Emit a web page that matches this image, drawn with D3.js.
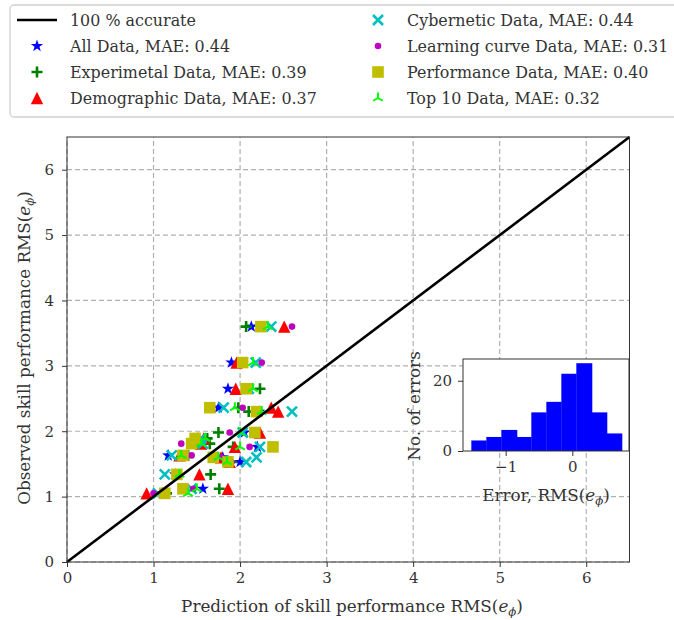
<!DOCTYPE html>
<html>
<head>
<meta charset="utf-8">
<script src="https://cdn.jsdelivr.net/npm/d3@7"></script>
<style>
body { margin: 0; background: white; }
text { font-family: "DejaVu Serif", serif; fill: #333; }
</style>
</head>
<body>
<div id="canvas"></div>
<script>
// observed skill performance, one value per case (shared by all predictors)
var observed = [3.60, 3.05, 2.65, 2.36, 2.30, 1.98, 1.89, 1.81, 1.76, 1.63, 1.60, 1.53, 1.34, 1.12, 1.05];

// predictions per data set
var allPred  = [2.13, 1.90, 1.86, 1.75, 2.22, 2.05, 1.52, 1.50, 2.20, 1.17, 1.80, 2.00, 1.25, 1.57, 1.10];
var expPred  = [2.07, 2.02, 2.23, 1.98, 2.10, 1.75, 1.62, 1.65, 1.92, 1.40, 1.72, 1.90, 1.66, 1.76, 1.15];
var demPred  = [2.51, 1.96, 1.95, 2.36, 2.44, 2.23, 1.58, 1.55, 1.94, 1.30, 1.78, 1.88, 1.53, 1.86, 0.92];
var cybPred  = [2.36, 2.18, 2.10, 1.81, 2.60, 2.03, 1.55, 1.57, 2.23, 1.21, 2.19, 2.07, 1.13, 1.44, 1.05];
var lcPred   = [2.60, 2.25, 2.05, 2.03, 2.20, 1.88, 1.50, 1.32, 2.11, 1.44, 1.78, 1.90, 1.28, 1.46, 1.00];
var perfPred = [2.24, 2.03, 2.07, 1.65, 2.19, 2.17, 1.48, 1.44, 2.38, 1.34, 1.69, 1.86, 1.27, 1.34, 1.13];
var topPred  = [2.32, 2.15, 2.15, 1.94, 2.25, 2.00, 1.60, 1.55, 2.00, 1.32, 1.75, 1.85, 1.30, 1.50, 1.40];

var seriesNames = ["All Data, MAE: 0.44", "Experimetal Data, MAE: 0.39", "Demographic Data, MAE: 0.37",
  "Cybernetic Data, MAE: 0.44", "Learning curve Data, MAE: 0.31", "Performance Data, MAE: 0.40", "Top 10 Data, MAE: 0.32"];
var seriesPred = [allPred, expPred, demPred, cybPred, lcPred, perfPred, topPred];
var seriesColors = ["#0000ff", "#008000", "#ff0000", "#00bfbf", "#bf00bf", "#bfbf00", "#00ff00"];
var seriesShapes = ["star", "plus", "triangle", "x", "circle", "square", "tri"];

// inset histogram of errors
var errorBins = [-1.515, -1.29, -1.065, -0.83, -0.615, -0.39, -0.165, 0.06, 0.295, 0.52, 0.745];
var errorCounts = [3, 4, 6, 4, 11, 14, 22, 25, 11, 5];

var mainTicks = [0, 1, 2, 3, 4, 5, 6];
var insetXTicks = [-1, 0];
var insetYTicks = [0, 20];

var labelSize = 16.8, legendSize = 15.9, tickSize = 15;

var svg = d3.select("#canvas").append("svg").attr("width", 674).attr("height", 620);

var x = d3.scaleLinear().domain([0, 6.5]).range([67, 629.5]);
var y = d3.scaleLinear().domain([0, 6.5]).range([562, 137]);

// marker path for a shape, h = half size
function markerPath(shape, h) {
  if (shape == "star") {
    var p = d3.path(), R = h * 1.15, r = R * 0.4;
    for (var i = 0; i < 10; i++) {
      var a = -Math.PI / 2 + i * Math.PI / 5, rr = i % 2 ? r : R;
      if (i == 0) p.moveTo(rr * Math.cos(a), rr * Math.sin(a)); else p.lineTo(rr * Math.cos(a), rr * Math.sin(a));
    }
    p.closePath();
    return p.toString();
  }
  if (shape == "plus") return "M" + (-h) + ",0H" + h + "M0," + (-h) + "V" + h;
  if (shape == "x") return "M" + (-h) + "," + (-h) + "L" + h + "," + h + "M" + (-h) + "," + h + "L" + h + "," + (-h);
  if (shape == "triangle") return "M0," + (-h * 1.1) + "L" + (h * 1.1) + "," + (h * 1.1) + "L" + (-h * 1.1) + "," + (h * 1.1) + "Z";
  if (shape == "square") return "M" + (-h) + "," + (-h) + "H" + h + "V" + h + "H" + (-h) + "Z";
  if (shape == "tri") return "M0,0V" + (-h) + "M0,0L" + (-0.87 * h) + "," + (0.5 * h) + "M0,0L" + (0.87 * h) + "," + (0.5 * h);
  return "";
}
function drawMarker(g, shape, color) {
  if (shape == "circle") {
    g.append("circle").attr("r", 3.3).attr("fill", color);
  } else if (shape == "plus" || shape == "x" || shape == "tri") {
    g.append("path").attr("d", markerPath(shape, shape == "x" ? 5 : 5.5)).attr("fill", "none")
      .attr("stroke", color).attr("stroke-width", shape == "tri" ? 2 : 2.6);
  } else {
    g.append("path").attr("d", markerPath(shape, shape == "square" ? 5.8 : 5.6)).attr("fill", color);
  }
}

// grid
svg.append("g").selectAll("line").data(mainTicks).join("line")
  .attr("x1", d => x(d)).attr("x2", d => x(d)).attr("y1", y(0)).attr("y2", y(6.5))
  .attr("stroke", "#b0b0b0").attr("stroke-width", 1.2).attr("stroke-dasharray", "5,3");
svg.append("g").selectAll("line").data(mainTicks).join("line")
  .attr("y1", d => y(d)).attr("y2", d => y(d)).attr("x1", x(0)).attr("x2", x(6.5))
  .attr("stroke", "#b0b0b0").attr("stroke-width", 1.2).attr("stroke-dasharray", "5,3");

// scatter
seriesPred.forEach(function(pred, s) {
  var g = svg.append("g");
  pred.forEach(function(p, i) {
    var m = g.append("g").attr("transform", "translate(" + x(p) + "," + y(observed[i]) + ")");
    drawMarker(m, seriesShapes[s], seriesColors[s]);
  });
});

// 100 % accurate line
svg.append("line").attr("x1", x(0)).attr("y1", y(0)).attr("x2", x(6.5)).attr("y2", y(6.5))
  .attr("stroke", "black").attr("stroke-width", 2.6);

// frame and axes
svg.append("rect").attr("x", x(0)).attr("y", y(6.5)).attr("width", x(6.5) - x(0)).attr("height", y(0) - y(6.5))
  .attr("fill", "none").attr("stroke", "#333").attr("stroke-width", 1);

var xAxis = svg.append("g").attr("transform", "translate(0," + y(0) + ")")
  .call(d3.axisBottom(x).tickValues(mainTicks).tickFormat(d3.format("d")).tickSize(5).tickPadding(5));
var yAxis = svg.append("g").attr("transform", "translate(" + x(0) + ",0)")
  .call(d3.axisLeft(y).tickValues(mainTicks).tickFormat(d3.format("d")).tickSize(5).tickPadding(8));
[xAxis, yAxis].forEach(function(a) {
  a.select(".domain").remove();
  a.selectAll("line").attr("stroke", "#333");
  a.selectAll("text").attr("font-size", tickSize).attr("font-family", "DejaVu Serif").attr("fill", "#444");
});

function rmsLabel(t, prefix) {
  t.append("tspan").text(prefix + "RMS(");
  t.append("tspan").attr("font-style", "italic").text("e");
  t.append("tspan").attr("font-style", "italic").attr("font-size", "0.7em").attr("dy", 4).text("\u03d5");
  t.append("tspan").attr("dy", -4).text(")");
}
rmsLabel(svg.append("text").attr("x", 352).attr("y", 612).attr("text-anchor", "middle").attr("font-size", labelSize),
  "Prediction of skill performance ");
rmsLabel(svg.append("text").attr("transform", "translate(30,348) rotate(-90)").attr("text-anchor", "middle").attr("font-size", labelSize),
  "Observed skill performance ");

// inset histogram
var x2 = d3.scaleLinear().domain([-1.64, 0.85]).range([463, 629]);
var y2 = d3.scaleLinear().domain([0, 26.2]).range([451, 359]);
svg.append("rect").attr("x", x2(-1.64)).attr("y", y2(26.2)).attr("width", x2(0.85) - x2(-1.64))
  .attr("height", y2(0) - y2(26.2)).attr("fill", "white");
svg.append("g").selectAll("rect").data(errorCounts).join("rect")
  .attr("x", (d, i) => x2(errorBins[i])).attr("width", (d, i) => x2(errorBins[i + 1]) - x2(errorBins[i]) + 0.3)
  .attr("y", d => y2(d)).attr("height", d => y2(0) - y2(d)).attr("fill", "#0000ff");
svg.append("rect").attr("x", x2(-1.64)).attr("y", y2(26.2)).attr("width", x2(0.85) - x2(-1.64))
  .attr("height", y2(0) - y2(26.2)).attr("fill", "none").attr("stroke", "#333");
var ix = svg.append("g").attr("transform", "translate(0," + y2(0) + ")")
  .call(d3.axisBottom(x2).tickValues(insetXTicks).tickFormat(d => d < 0 ? "\u2212" + (-d) : d).tickSize(5).tickPadding(5));
var iy = svg.append("g").attr("transform", "translate(" + x2(-1.64) + ",0)")
  .call(d3.axisLeft(y2).tickValues(insetYTicks).tickSize(5).tickPadding(6));
[ix, iy].forEach(function(a) {
  a.select(".domain").remove();
  a.selectAll("line").attr("stroke", "#333");
  a.selectAll("text").attr("font-size", tickSize).attr("font-family", "DejaVu Serif").attr("fill", "#444");
});
rmsLabel(svg.append("text").attr("x", 546).attr("y", 501).attr("text-anchor", "middle").attr("font-size", labelSize), "Error, ");
svg.append("text").attr("transform", "translate(420,406) rotate(-90)").attr("text-anchor", "middle")
  .attr("font-size", labelSize).text("No. of errors");

// legend
var leg = svg.append("g");
leg.append("rect").attr("x", 10).attr("y", 5).attr("width", 700).attr("height", 112).attr("rx", 4)
  .attr("fill", "white").attr("stroke", "#d0d0d0").attr("stroke-width", 1.3);
var legRows = [20, 46, 72, 98];
leg.append("line").attr("x1", 17).attr("x2", 57).attr("y1", legRows[0]).attr("y2", legRows[0])
  .attr("stroke", "black").attr("stroke-width", 2.6);
leg.append("text").attr("x", 70).attr("y", legRows[0] + 6).attr("font-size", legendSize).text("100 % accurate");
seriesNames.forEach(function(name, s) {
  var slot = s + 1, col = slot < 4 ? 0 : 1, row = slot % 4;
  var mx = col ? 378 : 37, ty = legRows[row];
  drawMarker(leg.append("g").attr("transform", "translate(" + mx + "," + ty + ")"), seriesShapes[s], seriesColors[s]);
  leg.append("text").attr("x", col ? 407 : 70).attr("y", ty + 6).attr("font-size", legendSize).text(name);
});
</script>
</body>
</html>
